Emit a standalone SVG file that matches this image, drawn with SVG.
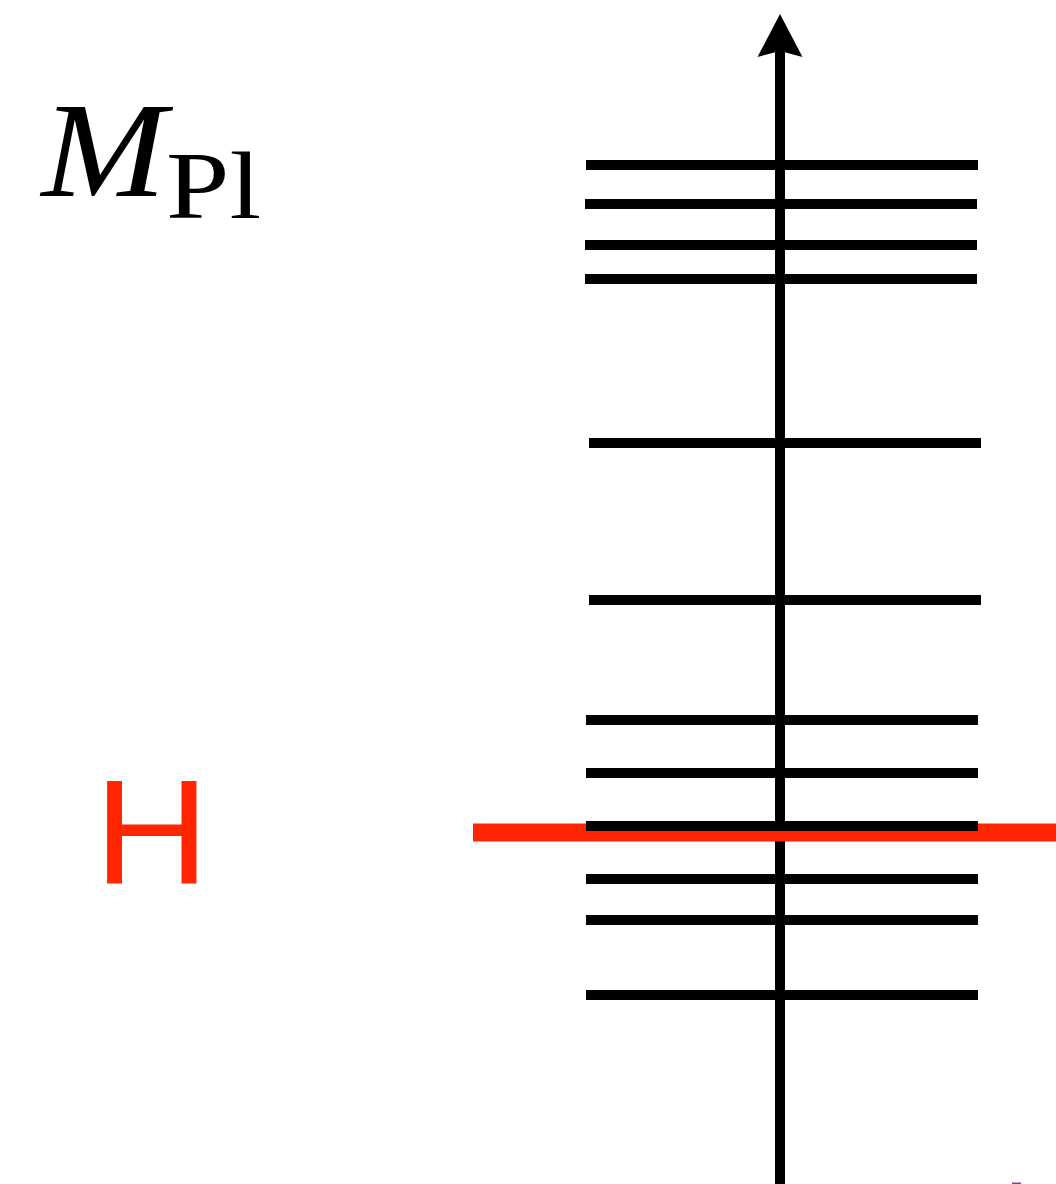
<svg xmlns="http://www.w3.org/2000/svg" width="1056" height="1184" viewBox="0 0 1056 1184">
<style>
.lvl{stroke:#000;stroke-width:10;fill:none}
.axis{stroke:#000;stroke-width:10;fill:none}
.m{font-family:"Liberation Serif",serif;fill:#000}
.h{font-family:"Liberation Sans",sans-serif;fill:#ff2600}
</style>
<rect x="0" y="0" width="1056" height="1184" fill="#fff"/>
<g id="connectors">
<line class="axis" x1="780" y1="1184" x2="780" y2="50"/>
<polygon points="780,14 757.5,57 780,51 802.5,57" fill="#000"/>
</g>
<g id="higgs-line">
<rect x="473" y="823.5" width="583" height="18" fill="#ff2600"/>
</g>
<g id="levels">
<line class="lvl" x1="586" y1="165" x2="978" y2="165"/>
<line class="lvl" x1="585" y1="204" x2="977" y2="204"/>
<line class="lvl" x1="585" y1="245" x2="977" y2="245"/>
<line class="lvl" x1="585" y1="279" x2="977" y2="279"/>
<line class="lvl" x1="589" y1="443" x2="981" y2="443"/>
<line class="lvl" x1="589" y1="600" x2="981" y2="600"/>
<line class="lvl" x1="586" y1="720" x2="978" y2="720"/>
<line class="lvl" x1="586" y1="773" x2="978" y2="773"/>
<line class="lvl" x1="586" y1="826" x2="978" y2="826"/>
<line class="lvl" x1="586" y1="879" x2="978" y2="879"/>
<line class="lvl" x1="586" y1="920" x2="978" y2="920"/>
<line class="lvl" x1="586" y1="995" x2="978" y2="995"/>
</g>
<g id="label-mpl">
<text class="m" transform="translate(41.5,196) scale(1.11,1)" font-size="135" font-style="italic">M</text>
<text class="m" transform="translate(166,218) scale(1.2,1)" font-size="95">Pl</text>
</g>
<g id="label-h">
<text class="h" transform="translate(94,883) scale(1.08,1)" font-size="148">H</text>
</g>
<rect x="1012" y="1182.5" width="9" height="1.5" fill="#8a3a9a"/>
</svg>
